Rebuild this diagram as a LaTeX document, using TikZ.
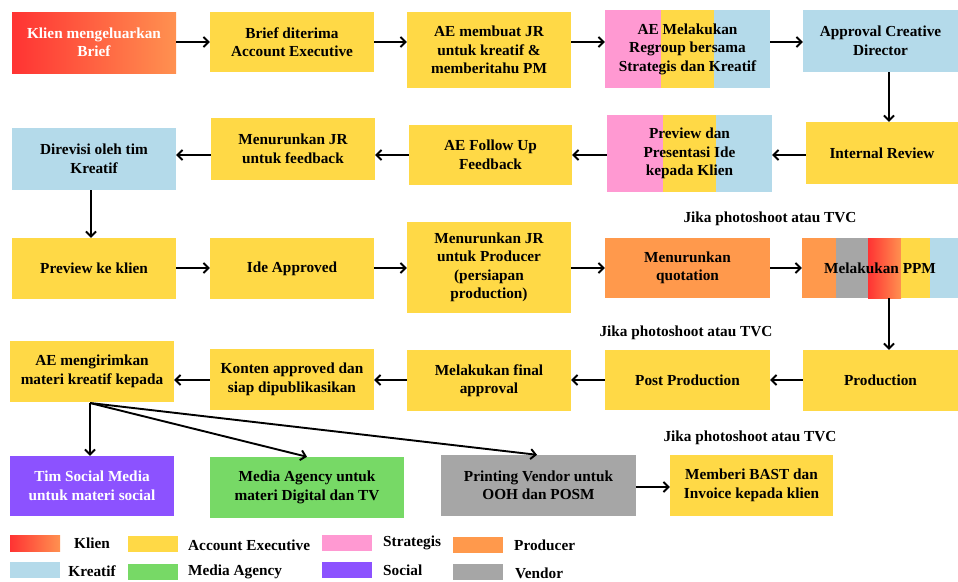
\documentclass[tikz,border=0pt]{standalone}
\usepackage{fontspec}
\setmainfont{Liberation Serif}
\usetikzlibrary{arrows.meta}
\definecolor{aey}{RGB}{255,217,70}
\definecolor{kre}{RGB}{180,218,234}
\definecolor{stra}{RGB}{255,153,210}
\definecolor{prod}{RGB}{255,153,76}
\definecolor{vend}{RGB}{166,166,166}
\definecolor{mag}{RGB}{119,217,102}
\definecolor{soc}{RGB}{140,82,255}
\definecolor{klA}{RGB}{255,51,51}
\definecolor{klB}{RGB}{255,145,80}
\begin{document}
\begin{tikzpicture}[x=1pt,y=-1pt,
  box/.style={rectangle, inner sep=0pt, align=center, font=\fontsize{15.3}{18.5}\selectfont\bfseries},
  sz/.style 2 args={minimum width=#1pt, minimum height=#2pt},
  aebox/.style={box, fill=aey},
  kbox/.style={box, fill=kre},
  klbox/.style={box, left color=klA, right color=klB, text=white},
  pbox/.style={box, fill=prod},
  vbox/.style={box, fill=vend},
  gbox/.style={box, fill=mag},
  sbox/.style={box, fill=soc, text=white},
  arr/.style={line width=1.9pt, -{Straight Barb[length=5pt,width=10pt]}},
  note/.style={font=\fontsize{15.3}{18.5}\selectfont\bfseries, inner sep=0pt},
  lgtext/.style={font=\fontsize{15.3}{18.5}\selectfont\bfseries, inner sep=0pt},
  sw/.style={rectangle, inner sep=0pt, minimum width=50pt, minimum height=16pt},
]
\fill[white] (0,0) rectangle (958,581);
\useasboundingbox (0,0) rectangle (958,581);

% segmented backgrounds
\fill[stra] (605,10) rectangle (661,88);
\fill[aey] (661,10) rectangle (714,88);
\fill[kre] (714,10) rectangle (770,88);
\fill[stra] (607,115) rectangle (663,192);
\fill[aey] (663,115) rectangle (716,192);
\fill[kre] (716,115) rectangle (772,192);
\fill[prod] (802,238) rectangle (836,298);
\fill[vend] (836,238) rectangle (868,298);
\shade[left color=klA, right color=klB] (868,238) rectangle (901,298);
\fill[aey] (901,238) rectangle (930,298);
\fill[kre] (930,238) rectangle (958,298);

% row 1
\node[klbox, sz={164}{61}] (klien) at (94,42.5) {Klien mengeluarkan\\Brief};
\node[aebox, sz={164}{60}] (brief) at (292,42) {Brief diterima\\Account Executive};
\node[aebox, sz={164}{76}] (ajr) at (489,50) {AE membuat JR\\untuk kreatif \&\\memberitahu PM};
\node[box, sz={165}{78}] (regroup) at (687.5,49) {AE Melakukan\\Regroup bersama\\Strategis dan Kreatif};
\node[kbox, sz={155}{62}] (approval) at (880.5,41) {Approval Creative\\Director};

% row 2
\node[aebox, sz={152}{62}] (internal) at (882,153) {Internal Review};
\node[box, sz={165}{77}] (preview) at (689.5,153.5) {Preview dan\\Presentasi Ide\\kepada Klien};
\node[aebox, sz={163}{60}] (aefu) at (490.5,155) {AE Follow Up\\Feedback};
\node[aebox, sz={164}{62}] (mjrf) at (293,149) {Menurunkan JR\\untuk feedback};
\node[kbox, sz={164}{62}] (direvisi) at (94,159) {Direvisi oleh tim\\Kreatif};

% row 3
\node[aebox, sz={164}{61}] (pkk) at (94,268.5) {Preview ke klien};
\node[aebox, sz={164}{61}] (ide) at (292,268.5) {Ide Approved};
\node[aebox, sz={164}{91}] (pjr) at (489,267.5) {Menurunkan JR\\untuk Producer\\(persiapan\\production)};
\node[pbox, sz={165}{60}] (quot) at (687.5,268) {Menurunkan\\quotation};
\node[box, sz={156}{60}] (ppm) at (880,268) {Melakukan PPM};
\node[note] (n1) at (770,219) {Jika photoshoot atau TVC};

% row 4
\node[aebox, sz={155}{61}] (production) at (880.5,380.5) {Production};
\node[aebox, sz={165}{60}] (post) at (687.5,380) {Post Production};
\node[aebox, sz={164}{61}] (final) at (489,380.5) {Melakukan final\\approval};
\node[aebox, sz={164}{61}] (konten) at (292,379.5) {Konten approved dan\\siap dipublikasikan};
\node[aebox, sz={164}{61}] (aem) at (92,371.5) {AE mengirimkan\\materi kreatif kepada};
\node[note] (n2) at (686,333) {Jika photoshoot atau TVC};

% row 5
\node[sbox, sz={164}{60}] (social) at (92,486) {Tim Social Media\\untuk materi social};
\node[gbox, sz={194}{61}] (media) at (307,487.5) {Media Agency untuk\\materi Digital dan TV};
\node[vbox, sz={195}{61}] (printing) at (538.5,485.5) {Printing Vendor untuk\\OOH dan POSM};
\node[aebox, sz={163}{61}] (bast) at (751.5,485.5) {Memberi BAST dan\\Invoice kepada klien};
\node[note] (n3) at (750,438) {Jika photoshoot atau TVC};

% helper coordinates
\coordinate (r1) at (0,42);
\coordinate (r2) at (0,155);
\coordinate (r3) at (0,268);
\coordinate (r4) at (0,380);
\coordinate (r5) at (0,487);
\coordinate (cR) at (889,0);
\coordinate (cL) at (91,0);
\coordinate (src) at (90,403);

% arrows row 1
\draw[arr] (klien.east |- r1) -- (brief.west |- r1);
\draw[arr] (brief.east |- r1) -- (ajr.west |- r1);
\draw[arr] (ajr.east |- r1) -- (regroup.west |- r1);
\draw[arr] (regroup.east |- r1) -- (approval.west |- r1);
\draw[arr] (approval.south -| cR) -- (internal.north -| cR);
% row 2
\draw[arr] (internal.west |- r2) -- (preview.east |- r2);
\draw[arr] (preview.west |- r2) -- (aefu.east |- r2);
\draw[arr] (aefu.west |- r2) -- (mjrf.east |- r2);
\draw[arr] (mjrf.west |- r2) -- (direvisi.east |- r2);
\draw[arr] (direvisi.south -| cL) -- (pkk.north -| cL);
% row 3
\draw[arr] (pkk.east |- r3) -- (ide.west |- r3);
\draw[arr] (ide.east |- r3) -- (pjr.west |- r3);
\draw[arr] (pjr.east |- r3) -- (quot.west |- r3);
\draw[arr] (quot.east |- r3) -- (ppm.west |- r3);
\draw[arr] (ppm.south -| cR) -- (production.north -| cR);
% row 4
\draw[arr] (production.west |- r4) -- (post.east |- r4);
\draw[arr] (post.west |- r4) -- (final.east |- r4);
\draw[arr] (final.west |- r4) -- (konten.east |- r4);
\draw[arr] (konten.west |- r4) -- (aem.east |- r4);
% row 5
\draw[arr] (src) -- (src |- social.north);
\draw[arr] (src) -- (media.north);
\draw[arr] (src) -- ([xshift=-1.5pt]printing.north);
\draw[arr] (printing.east |- r5) -- (bast.west |- r5);

% legend
\node[sw, left color=klA, right color=klB] (lk1) at (35,543) {};
\node[lgtext] (lt1) at (92,543) {Klien};
\node[sw, fill=kre] (lk2) at (35,570) {};
\node[lgtext] (lt2) at (92,571) {Kreatif};
\node[sw, fill=aey] (lk3) at (153,544) {};
\node[lgtext, anchor=west] (lt3) at (188,545) {Account Executive};
\node[sw, fill=mag] (lk4) at (153,572) {};
\node[lgtext, anchor=west] (lt4) at (188,572) {Media Agency};
\node[sw, fill=stra] (lk5) at (347,543) {};
\node[lgtext, anchor=west] (lt5) at (383,543) {Strategis};
\node[sw, fill=soc] (lk6) at (347,570) {};
\node[lgtext, anchor=west] (lt6) at (383,570) {Social};
\node[sw, fill=prod] (lk7) at (478,545) {};
\node[lgtext, anchor=west] (lt7) at (514,545) {Producer};
\node[sw, fill=vend] (lk8) at (478,572) {};
\node[lgtext, anchor=west] (lt8) at (515,573) {Vendor};
\end{tikzpicture}
\end{document}
